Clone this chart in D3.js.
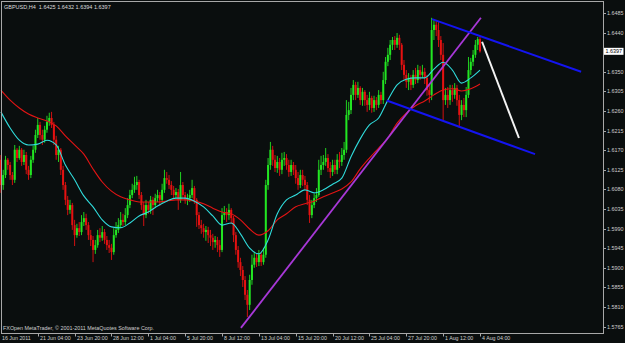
<!DOCTYPE html>
<html>
<head>
<meta charset="utf-8">
<script src="https://cdn.jsdelivr.net/npm/d3@7"></script>
<style>
  html, body { margin: 0; padding: 0; background: #0a0e0e; }
  svg { display: block; }
  text { font-family: "Liberation Sans", Arial, sans-serif; }
</style>
</head>
<body>
<svg id="mySvg"></svg>
<script>
// GBPUSD H4, 16 Jun 2011 12:00 .. 4 Aug 2011 04:00
const symbol = "GBPUSD,H4";
const copyright = "FXOpen MetaTrader, \u00a9 2001-2011 MetaQuotes Software Corp.";

const timeLabels = ["16 Jun 2011", "21 Jun 04:00", "23 Jun 20:00", "28 Jun 12:00", "1 Jul 04:00",
    "5 Jul 20:00", "8 Jul 12:00", "13 Jul 04:00", "15 Jul 20:00", "20 Jul 12:00",
    "25 Jul 04:00", "27 Jul 20:00", "1 Aug 12:00", "4 Aug 04:00"];
const timeLabelBars = [0, 16, 32, 48, 64, 80, 96, 112, 128, 144, 160, 176, 192, 208];

const priceTicks = [1.6485, 1.6440, 1.6350, 1.6305, 1.6260, 1.6215, 1.6170, 1.6125,
    1.6080, 1.6035, 1.5990, 1.5945, 1.5900, 1.5855, 1.5810, 1.5765];

const opens = [
    1.6148,1.6090,1.6113,1.6148,1.6136,1.6113,1.6102,1.6171,1.6152,1.6171,
    1.6143,1.6159,1.6125,1.6113,1.6148,1.6171,1.6205,1.6228,1.6205,1.6194,
    1.6217,1.6235,1.6244,1.6228,1.6194,1.6159,1.6171,1.6125,1.6090,1.6056,
    1.6033,1.6044,1.5998,1.5975,1.5991,1.5982,1.6005,1.6014,1.5998,1.5975,
    1.5964,1.5941,1.5952,1.5975,1.5969,1.5982,1.5964,1.5952,1.5946,1.5936,
    1.5975,1.5987,1.5998,1.6010,1.6005,1.6021,1.6044,1.6067,1.6079,1.6090,
    1.6097,1.6067,1.6044,1.6021,1.6044,1.6033,1.6056,1.6044,1.6060,1.6067,
    1.6056,1.6079,1.6106,1.6102,1.6090,1.6079,1.6067,1.6074,1.6056,1.6090,
    1.6067,1.6056,1.6060,1.6067,1.6083,1.6056,1.6021,1.5998,1.5991,1.5982,
    1.5987,1.5975,1.5969,1.5959,1.5964,1.5952,1.5941,1.6021,1.6028,1.6021,
    1.6033,1.6014,1.5975,1.5941,1.5913,1.5895,1.5872,1.5838,1.5815,1.5872,
    1.5907,1.5923,1.5913,1.5930,1.5913,1.5930,1.6090,1.6136,1.6171,1.6148,
    1.6129,1.6143,1.6125,1.6148,1.6152,1.6136,1.6120,1.6136,1.6125,1.6106,
    1.6090,1.6113,1.6102,1.6090,1.6056,1.6021,1.6044,1.6060,1.6067,1.6125,
    1.6136,1.6143,1.6152,1.6129,1.6120,1.6136,1.6125,1.6148,1.6143,1.6159,
    1.6171,1.6251,1.6262,1.6297,1.6320,1.6297,1.6313,1.6285,1.6304,1.6285,
    1.6274,1.6290,1.6267,1.6285,1.6274,1.6297,1.6285,1.6331,1.6373,1.6389,
    1.6412,1.6423,1.6412,1.6428,1.6412,1.6366,1.6343,1.6327,1.6336,1.6320,
    1.6343,1.6331,1.6354,1.6343,1.6350,1.6336,1.6308,1.6297,1.6446,1.6458,
    1.6446,1.6423,1.6389,1.6285,1.6297,1.6285,1.6308,1.6297,1.6313,1.6285,
    1.6251,1.6274,1.6262,1.6297,1.6354,1.6373,1.6389,1.6412,1.6425];

const highs = [
    1.6159,1.6125,1.6157,1.6152,1.6143,1.6120,1.6182,1.6175,1.6180,1.6175,
    1.6171,1.6166,1.6134,1.6157,1.6180,1.6217,1.6244,1.6235,1.6217,1.6226,
    1.6249,1.6256,1.6258,1.6235,1.6203,1.6180,1.6175,1.6134,1.6097,1.6065,
    1.6056,1.6049,1.6010,1.6001,1.6005,1.6021,1.6028,1.6024,1.6005,1.5987,
    1.5973,1.5964,1.5987,1.5991,1.5996,1.5989,1.5973,1.5964,1.5955,1.5991,
    1.6005,1.6014,1.6028,1.6024,1.6037,1.6060,1.6079,1.6093,1.6109,1.6111,
    1.6102,1.6074,1.6051,1.6056,1.6051,1.6065,1.6063,1.6070,1.6079,1.6074,
    1.6093,1.6125,1.6120,1.6113,1.6099,1.6088,1.6083,1.6081,1.6120,1.6097,
    1.6074,1.6070,1.6079,1.6102,1.6088,1.6060,1.6028,1.6010,1.6001,1.5996,
    1.5994,1.5987,1.5978,1.5973,1.5971,1.5964,1.6037,1.6042,1.6037,1.6047,
    1.6037,1.6019,1.5982,1.5950,1.5923,1.5904,1.5881,1.5849,1.5884,1.5930,
    1.5936,1.5932,1.5941,1.5936,1.5946,1.6102,1.6152,1.6189,1.6180,1.6159,
    1.6157,1.6152,1.6164,1.6166,1.6161,1.6148,1.6148,1.6143,1.6136,1.6120,
    1.6125,1.6125,1.6111,1.6097,1.6067,1.6056,1.6070,1.6083,1.6148,1.6157,
    1.6159,1.6175,1.6161,1.6143,1.6148,1.6148,1.6161,1.6166,1.6175,1.6189,
    1.6285,1.6281,1.6313,1.6331,1.6327,1.6327,1.6317,1.6313,1.6308,1.6297,
    1.6304,1.6295,1.6295,1.6292,1.6308,1.6304,1.6350,1.6384,1.6405,1.6423,
    1.6430,1.6432,1.6439,1.6435,1.6416,1.6377,1.6354,1.6347,1.6343,1.6354,
    1.6359,1.6366,1.6363,1.6366,1.6359,1.6343,1.6320,1.6474,1.6471,1.6469,
    1.6464,1.6432,1.6416,1.6313,1.6315,1.6320,1.6320,1.6324,1.6320,1.6297,
    1.6285,1.6290,1.6315,1.6384,1.6382,1.6400,1.6423,1.6430,1.6432];

const lows = [
    1.6072,1.6079,1.6106,1.6125,1.6102,1.6090,1.6095,1.6143,1.6148,1.6134,
    1.6136,1.6115,1.6102,1.6106,1.6141,1.6164,1.6198,1.6194,1.6182,1.6187,
    1.6210,1.6226,1.6221,1.6182,1.6148,1.6143,1.6113,1.6079,1.6044,1.6021,
    1.6024,1.5987,1.5950,1.5969,1.5973,1.5975,1.5996,1.5987,1.5964,1.5950,
    1.5913,1.5932,1.5946,1.5959,1.5962,1.5955,1.5941,1.5934,1.5918,1.5930,
    1.5969,1.5980,1.5991,1.5996,1.5998,1.6014,1.6037,1.6060,1.6072,1.6079,
    1.6058,1.6033,1.5996,1.6014,1.6024,1.6024,1.6021,1.6037,1.6051,1.6042,
    1.6049,1.6072,1.6093,1.6081,1.6067,1.6058,1.6058,1.6033,1.6049,1.6058,
    1.6047,1.6044,1.6051,1.6060,1.6047,1.5994,1.5989,1.5978,1.5969,1.5962,
    1.5957,1.5950,1.5941,1.5946,1.5936,1.5925,1.5936,1.6010,1.6005,1.6010,
    1.6001,1.5959,1.5930,1.5900,1.5881,1.5856,1.5826,1.5787,1.5803,1.5861,
    1.5900,1.5902,1.5904,1.5904,1.5907,1.5923,1.6079,1.6125,1.6134,1.6120,
    1.6118,1.6111,1.6115,1.6134,1.6125,1.6109,1.6111,1.6113,1.6093,1.6079,
    1.6083,1.6088,1.6079,1.6044,1.6003,1.6014,1.6037,1.6051,1.6063,1.6113,
    1.6125,1.6134,1.6120,1.6106,1.6111,1.6115,1.6115,1.6129,1.6134,1.6148,
    1.6164,1.6239,1.6253,1.6285,1.6285,1.6290,1.6274,1.6272,1.6272,1.6258,
    1.6262,1.6256,1.6258,1.6262,1.6267,1.6276,1.6276,1.6322,1.6363,1.6377,
    1.6400,1.6400,1.6405,1.6400,1.6354,1.6331,1.6313,1.6308,1.6308,1.6313,
    1.6322,1.6324,1.6331,1.6336,1.6322,1.6295,1.6279,1.6285,1.6423,1.6432,
    1.6407,1.6377,1.6239,1.6274,1.6267,1.6274,1.6281,1.6288,1.6272,1.6221,
    1.6239,1.6246,1.6246,1.6290,1.6343,1.6363,1.6382,1.6400,1.6394];

const closes = [
    1.6090,1.6113,1.6148,1.6136,1.6113,1.6102,1.6171,1.6152,1.6171,1.6143,
    1.6159,1.6125,1.6113,1.6148,1.6171,1.6205,1.6228,1.6205,1.6194,1.6217,
    1.6235,1.6244,1.6228,1.6194,1.6159,1.6171,1.6125,1.6090,1.6056,1.6033,
    1.6044,1.5998,1.5975,1.5991,1.5982,1.6005,1.6014,1.5998,1.5975,1.5964,
    1.5941,1.5952,1.5975,1.5969,1.5982,1.5964,1.5952,1.5946,1.5936,1.5975,
    1.5987,1.5998,1.6010,1.6005,1.6021,1.6044,1.6067,1.6079,1.6090,1.6097,
    1.6067,1.6044,1.6021,1.6044,1.6033,1.6056,1.6044,1.6060,1.6067,1.6056,
    1.6079,1.6106,1.6102,1.6090,1.6079,1.6067,1.6074,1.6056,1.6090,1.6067,
    1.6056,1.6060,1.6067,1.6083,1.6056,1.6021,1.5998,1.5991,1.5982,1.5987,
    1.5975,1.5969,1.5959,1.5964,1.5952,1.5941,1.6021,1.6028,1.6021,1.6033,
    1.6014,1.5975,1.5941,1.5913,1.5895,1.5872,1.5838,1.5815,1.5872,1.5907,
    1.5923,1.5913,1.5930,1.5913,1.5930,1.6090,1.6136,1.6171,1.6148,1.6129,
    1.6143,1.6125,1.6148,1.6152,1.6136,1.6120,1.6136,1.6125,1.6106,1.6090,
    1.6113,1.6102,1.6090,1.6056,1.6021,1.6044,1.6060,1.6067,1.6125,1.6136,
    1.6143,1.6152,1.6129,1.6120,1.6136,1.6125,1.6148,1.6143,1.6159,1.6171,
    1.6251,1.6262,1.6297,1.6320,1.6297,1.6313,1.6285,1.6304,1.6285,1.6274,
    1.6290,1.6267,1.6285,1.6274,1.6297,1.6285,1.6331,1.6373,1.6389,1.6412,
    1.6423,1.6412,1.6428,1.6412,1.6366,1.6343,1.6327,1.6336,1.6320,1.6343,
    1.6331,1.6354,1.6343,1.6350,1.6336,1.6308,1.6297,1.6446,1.6458,1.6446,
    1.6423,1.6389,1.6285,1.6297,1.6285,1.6308,1.6297,1.6313,1.6285,1.6251,
    1.6274,1.6262,1.6297,1.6354,1.6373,1.6389,1.6412,1.6425,1.6397];

// moving averages read every 4th bar
const maStep = 4;
const maFast = [
    1.6258,1.6221,1.6193,1.6182,1.6184,1.6193,1.6182,1.6136,1.6102,1.6065,
    1.6040,1.6010,1.5994,1.5992,1.6003,1.6019,1.6028,1.6042,1.6053,1.6060,
    1.6060,1.6053,1.6040,1.6019,1.5998,1.6003,1.5978,1.5945,1.5932,1.5964,
    1.6024,1.6056,1.6067,1.6079,1.6072,1.6079,1.6092,1.6106,1.6155,1.6196,
    1.6228,1.6244,1.6285,1.6320,1.6333,1.6336,1.6336,1.6356,1.6372,1.6354,
    1.6324,1.6336,1.6354];
const maSlow = [
    1.6308,1.6285,1.6267,1.6253,1.6244,1.6237,1.6226,1.6203,1.6182,1.6161,
    1.6127,1.6097,1.6076,1.6063,1.6056,1.6051,1.6051,1.6051,1.6053,1.6056,
    1.6056,1.6053,1.6047,1.6037,1.6028,1.6024,1.6010,1.5989,1.5975,1.5985,
    1.6010,1.6024,1.6040,1.6047,1.6053,1.6063,1.6072,1.6081,1.6097,1.6127,
    1.6152,1.6175,1.6198,1.6232,1.6255,1.6272,1.6283,1.6297,1.6308,1.6311,
    1.6306,1.6311,1.6322];

// drawn objects: [bar, price] end points
const trendLine = [[104.2, 1.5762], [208.4, 1.6474]];
const channelTop = [[187.2, 1.6471], [251.9, 1.6350]];
const channelBottom = [[167.5, 1.6284], [231.9, 1.6161]];
const arrowLine = [[208.9, 1.6419], [224.9, 1.6198]];

const width = 625, height = 343;
const plotRight = 603.5, plotBottom = 333.5;

const svg = d3.select("#mySvg")
    .attr("width", width)
    .attr("height", height);

const x = d3.scaleLinear().domain([0, 208]).range([0.9, 480]);
const y = d3.scaleLinear().domain([1.5765, 1.6485]).range([326.6, 13]);

const bars = closes.map((c, i) => ({ i, o: opens[i], h: highs[i], l: lows[i], c }));

const plot = svg.append("g");

// candles
const candle = plot.selectAll("g.candle")
    .data(bars)
    .enter()
    .append("g")
    .attr("class", "candle")
    .attr("stroke", d => d.c >= d.o ? "#22e622" : "#e61111")
    .attr("fill", d => d.c >= d.o ? "#22e622" : "#e61111");

candle.append("line")
    .attr("x1", d => x(d.i)).attr("x2", d => x(d.i))
    .attr("y1", d => y(d.h)).attr("y2", d => y(d.l))
    .attr("stroke-width", 0.9);

candle.append("rect")
    .attr("x", d => x(d.i) - 1)
    .attr("width", 2)
    .attr("y", d => y(Math.max(d.o, d.c)))
    .attr("height", d => Math.max(0.8, Math.abs(y(d.o) - y(d.c))))
    .attr("stroke", "none");

// moving averages
const maLine = d3.line()
    .x((d, k) => x(k * maStep))
    .y(d => y(d))
    .curve(d3.curveMonotoneX);

plot.append("path").attr("d", maLine(maSlow))
    .attr("fill", "none").attr("stroke", "#e41414").attr("stroke-width", 1.1);
plot.append("path").attr("d", maLine(maFast))
    .attr("fill", "none").attr("stroke", "#30dcdc").attr("stroke-width", 1.1);

// trend objects
const seg = d3.line().x(d => x(d[0])).y(d => y(d[1]));
plot.append("path").attr("d", seg(trendLine))
    .attr("stroke", "#a838d8").attr("stroke-width", 1.8).attr("fill", "none");
plot.append("path").attr("d", seg(channelTop))
    .attr("stroke", "#1414f0").attr("stroke-width", 2).attr("fill", "none");
plot.append("path").attr("d", seg(channelBottom))
    .attr("stroke", "#1414f0").attr("stroke-width", 2).attr("fill", "none");
plot.append("path").attr("d", seg(arrowLine))
    .attr("stroke", "#f4f4f4").attr("stroke-width", 2).attr("fill", "none");

// frame
svg.append("rect")
    .attr("x", 1.5).attr("y", 1.5)
    .attr("width", plotRight - 1.5).attr("height", plotBottom - 1.5)
    .attr("fill", "none").attr("stroke", "#a8a8a8").attr("stroke-width", 1);

// price scale
const pt = svg.append("g").attr("font-size", 5.4).attr("fill", "#cfcfcf");
priceTicks.forEach(p => {
    pt.append("line")
        .attr("x1", plotRight).attr("x2", plotRight + 2.5)
        .attr("y1", Math.round(y(p)) + 0.5).attr("y2", Math.round(y(p)) + 0.5)
        .attr("stroke", "#a8a8a8");
    pt.append("text")
        .attr("x", 607).attr("y", y(p) + 2)
        .text(p.toFixed(4));
});

// last price marker
const last = closes[closes.length - 1];
svg.append("rect")
    .attr("x", 604).attr("y", y(last) - 3.5)
    .attr("width", 19.5).attr("height", 7)
    .attr("fill", "#ffffff");
svg.append("text")
    .attr("x", 605.5).attr("y", y(last) + 2)
    .attr("font-size", 5.4).attr("fill", "#000")
    .text(last.toFixed(4));

// time scale
const tt = svg.append("g").attr("font-size", 5.3).attr("fill", "#cfcfcf");
timeLabelBars.forEach((b, k) => {
    const tx = Math.round(x(b)) + 0.5;
    if (k > 0) {
        tt.append("line")
            .attr("x1", tx).attr("x2", tx)
            .attr("y1", plotBottom).attr("y2", plotBottom + 3)
            .attr("stroke", "#a8a8a8");
    }
    tt.append("text")
        .attr("x", k === 0 ? 2 : tx + 1.5).attr("y", 340)
        .text(timeLabels[k]);
});

// header and copyright
const n = closes.length - 1;
svg.append("text")
    .attr("x", 4).attr("y", 8.5)
    .attr("font-size", 5.5).attr("fill", "#dcdcdc")
    .attr("xml:space", "preserve")
    .text(`${symbol}  ${opens[n].toFixed(4)} ${highs[n].toFixed(4)} ${lows[n].toFixed(4)} ${closes[n].toFixed(4)}`);

svg.append("text")
    .attr("x", 3).attr("y", 330)
    .attr("font-size", 5.4).attr("fill", "#cfcfcf")
    .text(copyright);
</script>
</body>
</html>
